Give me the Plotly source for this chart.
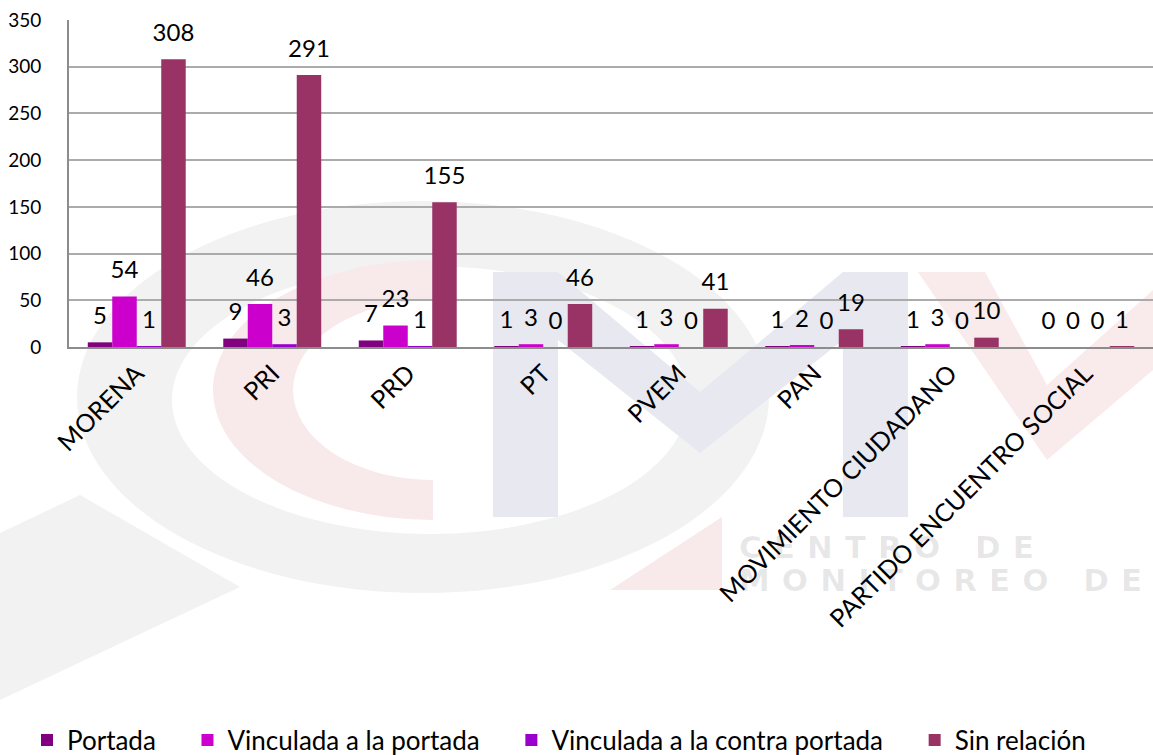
import base64
import plotly.graph_objects as go

# --- datos ---
partidos = ["MORENA", "PRI", "PRD", "PT", "PVEM", "PAN",
            "MOVIMIENTO CIUDADANO", "PARTIDO ENCUENTRO SOCIAL"]
portada = [5, 9, 7, 1, 1, 1, 1, 0]
vinc_portada = [54, 46, 23, 3, 3, 2, 3, 0]
vinc_contra = [1, 3, 1, 0, 0, 0, 0, 0]
sin_relacion = [308, 291, 155, 46, 41, 19, 10, 1]

series = [
    ("Portada", portada, "#800080"),
    ("Vinculada a la portada", vinc_portada, "#CC00CC"),
    ("Vinculada a la contra portada", vinc_contra, "#9900CC"),
    ("Sin relación", sin_relacion, "#993366"),
]

W, H = 1153, 755
L, R, T, B = 69, 0, 20, 408
PW, PH = W - L - R, H - T - B
FONT = "Lato"
LABEL_LIFT = 11  # Abstand der Datenbeschriftung über dem Balken (Achseneinheiten)
PAD = "\u00a0" * 4  # Abstand zwischen Legendeneinträgen


def px_x(x):
    return (x - L) / PW


def px_y(y):
    return (H - B - y) / PH


# Wasserzeichen (Logo) als SVG im Hintergrund, in Pixelkoordinaten
svg = f"""<svg xmlns='http://www.w3.org/2000/svg' width='{W}' height='{H}' viewBox='0 0 {W} {H}'>
<path fill-rule='evenodd' fill='#f2f2f2' d='M77,397 a346,196 0 1,0 692,0 a346,196 0 1,0 -692,0 Z M172,400 a258,134 0 1,0 516,0 a258,134 0 1,0 -516,0 Z'/>
<polygon fill='#f2f2f2' points='0,533 80,495 240,587 0,700'/>
<path fill='#f8e9eb' d='M433,260 A220,130 0 0,0 433,520 L433,480 A140,90 0 0,1 433,300 Z'/>
<polygon fill='#f8e9eb' points='610,590 722,517 722,590'/>
<polygon fill='#e8e8f1' points='493,517 493,272 558,272 700,392 843,272 908,272 908,517 843,517 843,340 700,453 558,340 558,517'/>
<polygon fill='#f9eaec' points='918,272 985,272 1047,385 1153,290 1153,370 1047,460'/>
</svg>"""
svg_uri = "data:image/svg+xml;base64," + base64.b64encode(svg.encode()).decode()

fig = go.Figure()
for i, (name, vals, color) in enumerate(series):
    fig.add_trace(go.Bar(
        x=partidos, y=vals, name=name + PAD, marker_color=color,
        offsetgroup=str(i), marker_line_width=0,
    ))
    # unsichtbarer Balken nur für die Beschriftung
    fig.add_trace(go.Bar(
        x=partidos, y=[LABEL_LIFT] * len(vals), base=vals,
        offsetgroup=str(i), marker_color="rgba(0,0,0,0)", marker_line_width=0,
        text=[str(v) for v in vals], textposition="outside",
        constraintext="none", cliponaxis=False,
        textfont=dict(family=FONT, size=24, color="#000000"),
        showlegend=False, hoverinfo="skip",
    ))

wm_font = dict(family="DejaVu Sans", size=31, weight="bold", color="rgba(0,0,0,0.09)")

fig.update_layout(
    width=W, height=H,
    margin=dict(l=L, r=R, t=T, b=B, autoexpand=False),
    barmode="group", bargap=0.277, bargroupgap=0,
    paper_bgcolor="white", plot_bgcolor="white",
    font=dict(family=FONT, color="#000000"),
    showlegend=True,
    legend=dict(
        orientation="h", x=px_x(27), xanchor="left",
        y=px_y(740), yanchor="middle",
        font=dict(family=FONT, size=26, color="#000000"),
        bgcolor="rgba(0,0,0,0)",
    ),
    images=[dict(
        source=svg_uri, xref="paper", yref="paper",
        x=px_x(0), y=px_y(0), sizex=W / PW, sizey=H / PH,
        xanchor="left", yanchor="top", sizing="stretch", layer="below",
    )],
    annotations=[
        dict(text="<span style='letter-spacing:12px'>CENTRO DE</span>",
             xref="paper", yref="paper", x=px_x(737), y=px_y(547),
             xanchor="left", yanchor="middle", showarrow=False, font=wm_font),
        dict(text="<span style='letter-spacing:12px'>MONITOREO DE</span>",
             xref="paper", yref="paper", x=px_x(737), y=px_y(580),
             xanchor="left", yanchor="middle", showarrow=False, font=wm_font),
    ],
)

fig.update_xaxes(
    tickangle=-45, tickfont=dict(family=FONT, size=25, color="#000000"),
    showline=True, linecolor="#8c8c8c", linewidth=2,
    showgrid=False, ticks="", automargin=False,
)
fig.update_yaxes(
    range=[0, 350], dtick=50,
    tickfont=dict(family=FONT, size=19, color="#000000"),
    showline=True, linecolor="#8c8c8c", linewidth=2,
    gridcolor="#ababab", gridwidth=1.5, zeroline=False,
    ticks="", ticklabelstandoff=22, automargin=False,
)

fig.write_html("out.html", config={"displayModeBar": False},
               post_script="document.body.style.margin='0';")
